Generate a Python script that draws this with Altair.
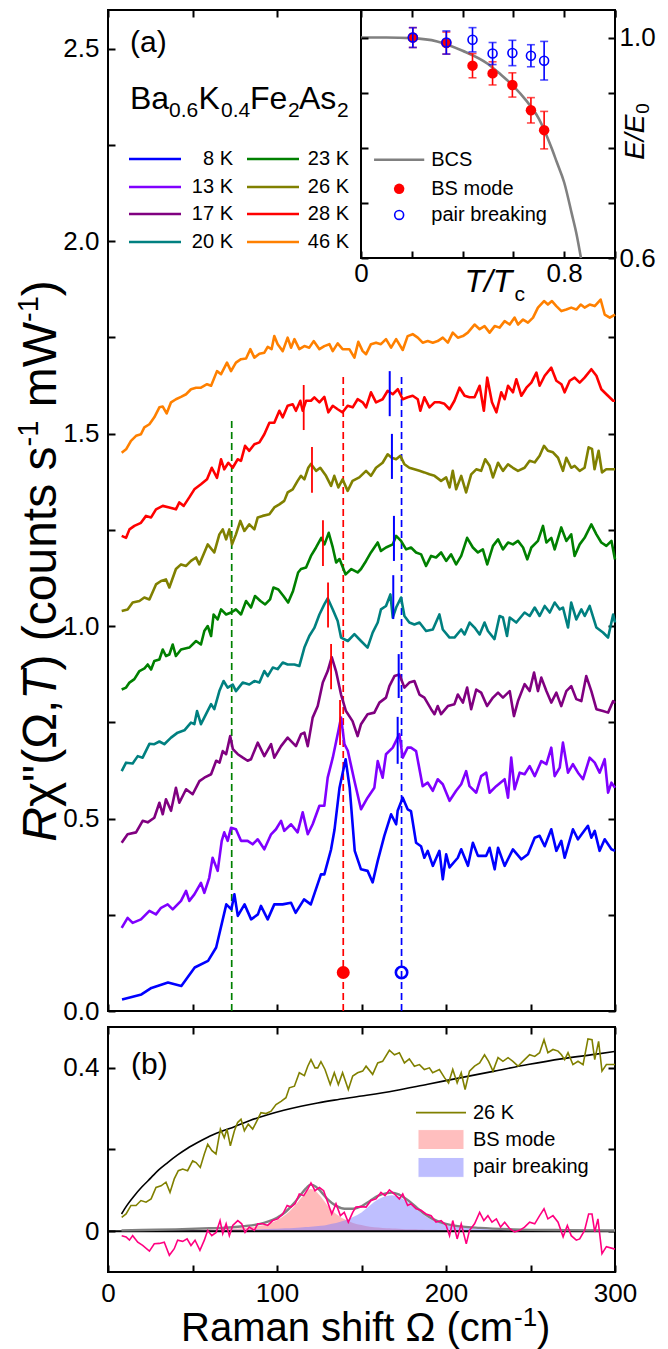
import altair as alt
import pandas as pd

FONT = "Liberation Sans"
W, HA, HB = 507, 1001, 245

# ---------------- panel (a) data: Raman response, offset curves ----------------
temps = ["8 K", "13 K", "17 K", "20 K", "23 K", "26 K", "28 K", "46 K"]
colors = ["#0000ff", "#8000ff", "#800080", "#008080", "#008000", "#808000", "#ff0000", "#ff8000"]

c8 = [(8.3,0.030),(19.8,0.043),(25.7,0.060),(35.5,0.074),(43.4,0.065),(51.3,0.113),(59.2,0.130),(64.0,0.165),
      (70.0,0.277),(73.0,0.264),(74.8,0.303),(76.8,0.247),(80.8,0.277),(84.7,0.238),(88.7,0.251),(90.5,0.273),
      (94.5,0.238),(98.4,0.277),(103.3,0.277),(108.3,0.281),(111.0,0.255),(116.0,0.290),(120.0,0.277),(126.0,0.355),
      (128.0,0.355),(132.0,0.420),(134.0,0.470),(137.0,0.580),(140.6,0.654),(143.0,0.580),(146.0,0.416),(149.7,0.368),
      (153.6,0.364),(156.6,0.334),(159.6,0.390),(163.5,0.455),(167.5,0.511),(170.5,0.485),(171.4,0.520),(174.4,0.554),
      (177.3,0.524),(179.3,0.519),(182.3,0.437),(185.2,0.428),(187.2,0.398),(189.2,0.416),(192.2,0.377),(196.1,0.416),
      (198.1,0.342),(200.1,0.407),(202.1,0.373),(207.0,0.398),(209.0,0.420),(213.0,0.377),(215.9,0.437),(218.9,0.403),
      (223.8,0.403),(225.8,0.424),(228.8,0.368),(230.8,0.424),(234.7,0.377),(239.6,0.420),(244.6,0.394),(248.5,0.407),
      (252.5,0.450),(255.4,0.455),(258.4,0.428),(262.3,0.472),(265.3,0.416),(268.2,0.442),(270.2,0.398),(275.1,0.472),
      (278.1,0.446),(284.0,0.481),(286.0,0.450),(288.0,0.468),(290.9,0.416),(293.9,0.446),(297.9,0.420),(300.0,0.416)]
c13 = [(8.1,0.216),(11.6,0.242),(14.6,0.229),(19.5,0.238),(24.5,0.260),(28.4,0.251),(31.4,0.268),(35.3,0.277),
       (38.3,0.264),(43.2,0.286),(46.2,0.312),(48.1,0.286),(51.1,0.303),(55.0,0.333),(57.0,0.307),(59.9,0.346),
       (61.9,0.398),(64.9,0.364),(67.3,0.442),(68.8,0.464),(70.8,0.442),(72.8,0.476),(75.7,0.472),(78.7,0.442),
       (82.6,0.442),(85.6,0.433),(88.6,0.446),(92.5,0.420),(96.5,0.459),(99.4,0.472),(102.4,0.494),(104.3,0.468),
       (108.3,0.485),(112.2,0.464),(115.2,0.516),(118.2,0.459),(121.1,0.485),(125.1,0.533),(128.0,0.533),(130.0,0.606),
       (133.0,0.658),(136.3,0.727),(137.9,0.762),(139.9,0.693),(141.9,0.676),(145.8,0.598),(149.7,0.524),(153.6,0.554),
       (157.6,0.580),(159.6,0.649),(162.5,0.606),(164.5,0.667),(168.5,0.684),(172.4,0.719),(174.4,0.658),(177.3,0.684),
       (179.3,0.684),(182.3,0.675),(186.2,0.584),(189.2,0.593),(192.2,0.572),(195.1,0.602),(198.1,0.589),(202.1,0.546),
       (206.0,0.572),(209.0,0.589),(211.9,0.623),(213.9,0.584),(217.9,0.567),(220.8,0.610),(223.8,0.619),(225.8,0.567),
       (229.7,0.584),(234.7,0.602),(236.7,0.554),(238.6,0.658),(240.6,0.576),(243.6,0.619),(246.5,0.615),(249.5,0.636),
       (252.5,0.610),(256.4,0.649),(259.4,0.641),(262.3,0.684),(264.3,0.610),(267.3,0.632),(269.2,0.697),(272.2,0.619),
       (275.1,0.641),(278.1,0.619),(281.1,0.602),(285.0,0.658),(288.0,0.645),(290.9,0.619),(293.9,0.654),(295.9,0.567),
       (297.9,0.593),(300.0,0.580)]
c17 = [(8.1,0.437),(11.6,0.459),(16.6,0.464),(20.5,0.494),(23.5,0.490),(27.4,0.502),(30.4,0.541),(32.4,0.511),
       (34.3,0.550),(37.3,0.520),(40.2,0.580),(42.2,0.541),(46.2,0.576),(50.1,0.563),(54.1,0.597),(57.0,0.606),
       (61.0,0.615),(64.0,0.650),(66.0,0.645),(67.9,0.675),(69.9,0.667),(72.3,0.714),(73.9,0.680),(76.8,0.667),
       (79.8,0.658),(82.6,0.650),(84.6,0.654),(88.6,0.697),(92.5,0.662),(96.5,0.693),(98.4,0.658),(102.4,0.688),
       (106.3,0.710),(111.2,0.688),(114.2,0.719),(116.2,0.723),(118.2,0.688),(121.1,0.762),(124.1,0.792),(127.1,0.853),
       (130.0,0.883),(132.4,0.919),(134.9,0.883),(137.9,0.822),(140.8,0.779),(144.7,0.753),(147.7,0.714),(149.7,0.745),
       (153.6,0.771),(157.6,0.775),(160.6,0.801),(164.5,0.814),(166.5,0.844),(169.5,0.870),(172.4,0.874),(175.4,0.840),
       (178.3,0.853),(181.3,0.857),(184.3,0.822),(187.2,0.814),(191.2,0.784),(193.2,0.771),(195.1,0.792),(197.1,0.771),
       (201.1,0.792),(205.0,0.797),(207.0,0.822),(210.0,0.801),(212.5,0.840),(214.9,0.784),(217.9,0.835),(220.8,0.827),
       (224.3,0.792),(227.8,0.814),(230.8,0.827),(233.7,0.814),(237.7,0.831),(240.2,0.766),(242.6,0.805),(246.5,0.849),
       (249.5,0.831),(252.1,0.879),(254.4,0.831),(256.4,0.866),(259.4,0.831),(262.3,0.801),(265.3,0.827),(268.2,0.792),
       (271.2,0.831),(274.1,0.844),(277.1,0.810),(280.1,0.805),(283.0,0.870),(286.0,0.831),(289.0,0.784),(292.9,0.779),
       (295.9,0.775),(298.9,0.805),(300.0,0.800)]
c20 = [(8.1,0.623),(10.7,0.645),(14.6,0.643),(17.6,0.662),(20.5,0.658),(24.5,0.694),(27.4,0.693),(30.4,0.700),
       (33.3,0.693),(37.3,0.710),(41.2,0.723),(45.2,0.729),(49.1,0.749),(51.1,0.745),(52.7,0.779),(55.0,0.745),
       (58.0,0.771),(61.0,0.797),(62.9,0.784),(65.9,0.831),(68.4,0.857),(70.8,0.840),(73.8,0.848),(75.7,0.831),
       (79.7,0.853),(83.6,0.848),(86.6,0.857),(89.6,0.853),(92.5,0.883),(94.5,0.870),(97.5,0.892),(100.4,0.888),
       (103.4,0.905),(106.3,0.900),(110.3,0.900),(113.2,0.896),(116.2,0.944),(119.1,0.974),(122.1,0.995),(125.1,1.030),
       (128.0,1.056),(130.0,1.072),(133.0,1.043),(135.9,1.013),(137.9,0.970),(141.9,0.961),(145.8,0.979),(149.7,0.961),
       (153.6,0.944),(156.6,0.983),(159.6,1.009),(161.5,1.043),(164.5,1.052),(167.1,1.082),(168.5,1.022),(170.5,1.048),
       (173.4,1.074),(175.4,1.026),(178.3,1.009),(181.3,1.004),(184.3,1.009),(188.2,0.987),(192.2,0.991),(196.1,1.030),
       (198.1,0.991),(202.1,0.970),(205.0,0.970),(209.0,0.991),(211.0,0.978),(214.0,1.009),(216.9,0.996),(219.9,0.978),
       (222.8,1.009),(224.8,0.987),(228.7,0.966),(231.7,1.026),(233.7,1.022),(236.1,0.974),(237.7,1.022),(241.6,1.009),
       (246.5,1.035),(249.5,1.026),(252.5,1.048),(255.4,1.026),(258.4,1.052),(261.4,1.035),(264.3,1.061),(267.3,1.043),
       (269.2,1.048),(272.2,0.996),(274.1,1.061),(277.1,1.017),(280.1,1.043),(282.1,1.026),(285.0,1.052),(289.0,0.996),
       (292.9,0.983),(295.9,0.970),(298.9,1.030),(300.0,1.009)]
c23 = [(8.1,0.835),(10.7,0.840),(12.7,0.853),(15.6,0.862),(18.6,0.883),(21.6,0.890),(23.5,0.900),(25.5,0.887),
       (27.4,0.909),(30.4,0.913),(32.4,0.939),(34.3,0.922),(36.3,0.926),(38.3,0.952),(40.2,0.922),(43.2,0.939),
       (48.1,0.944),(52.1,0.961),(55.0,0.952),(57.0,0.987),(59.0,1.000),(61.0,0.974),(62.5,1.030),(64.9,1.017),
       (66.9,1.043),(69.9,1.030),(72.8,1.035),(75.7,1.043),(78.7,1.030),(81.7,1.065),(84.6,1.048),(87.0,1.078),
       (90.2,1.065),(93.0,1.056),(95.9,1.069),(97.9,1.100),(100.8,1.095),(103.8,1.078),(106.6,1.061),(109.5,1.091),
       (112.5,1.139),(114.2,1.148),(117.2,1.152),(120.1,1.182),(123.1,1.204),(126.2,1.229),(128.1,1.212),(130.6,1.242),
       (133.0,1.204),(135.0,1.165),(137.0,1.174),(140.6,1.134),(144.0,1.148),(147.7,1.139),(149.7,1.148),(152.7,1.169),
       (155.6,1.191),(159.6,1.217),(161.5,1.195),(164.5,1.204),(168.5,1.212),(170.5,1.234),(173.4,1.221),(176.4,1.199),
       (179.3,1.204),(182.3,1.191),(185.3,1.186),(188.2,1.156),(191.2,1.182),(194.1,1.178),(197.1,1.191),(200.1,1.169),
       (203.0,1.186),(206.0,1.160),(209.0,1.182),(212.5,1.229),(215.9,1.204),(218.9,1.191),(221.8,1.199),(224.4,1.160),
       (227.8,1.208),(230.8,1.225),(233.7,1.199),(236.7,1.217),(239.6,1.212),(242.6,1.221),(245.6,1.204),(248.1,1.173),
       (250.5,1.204),(254.4,1.221),(257.4,1.260),(259.4,1.217),(262.3,1.229),(264.3,1.199),(268.2,1.256),(271.2,1.221),
       (274.1,1.238),(276.1,1.182),(279.1,1.212),(282.0,1.229),(286.0,1.264),(289.0,1.238),(291.9,1.217),(294.9,1.208),
       (297.9,1.221),(300.0,1.173)]
c26 = [(8.1,1.039),(11.6,1.043),(14.6,1.061),(18.6,1.065),(21.5,1.074),(24.5,1.069),(28.4,1.108),(31.4,1.117),
       (34.3,1.121),(36.3,1.100),(40.2,1.148),(43.2,1.160),(46.2,1.156),(49.1,1.169),(52.1,1.178),(54.0,1.160),
       (57.0,1.191),(59.0,1.212),(62.9,1.191),(65.9,1.238),(67.9,1.251),(69.9,1.225),(71.8,1.251),(73.4,1.212),
       (75.7,1.238),(78.3,1.273),(80.7,1.247),(83.6,1.264),(86.6,1.251),(88.6,1.282),(91.5,1.286),(95.5,1.290),
       (98.4,1.308),(101.4,1.316),(104.3,1.325),(106.3,1.347),(109.3,1.355),(112.2,1.377),(114.2,1.390),(116.2,1.381),
       (118.5,1.411),(120.1,1.421),(123.1,1.403),(125.6,1.411),(129.0,1.390),(132.0,1.364),(133.9,1.390),(136.3,1.360),
       (138.8,1.381),(141.8,1.351),(144.7,1.377),(148.7,1.386),(152.7,1.403),(155.6,1.390),(158.6,1.411),(162.5,1.424),
       (165.5,1.446),(167.9,1.437),(170.5,1.433),(173.0,1.442),(175.4,1.420),(178.3,1.411),(181.3,1.407),(184.3,1.403),
       (187.2,1.399),(190.2,1.394),(193.2,1.390),(197.1,1.377),(200.1,1.386),(202.1,1.360),(204.0,1.403),(206.0,1.355),
       (209.0,1.390),(211.9,1.347),(214.9,1.394),(217.9,1.407),(220.8,1.403),(223.2,1.433),(225.8,1.416),(227.8,1.386),
       (230.8,1.424),(233.7,1.403),(236.7,1.420),(239.6,1.411),(242.6,1.403),(246.5,1.411),(249.5,1.429),(252.5,1.425),
       (255.4,1.442),(258.0,1.468),(260.3,1.455),(263.3,1.451),(266.3,1.437),(269.2,1.403),(271.2,1.437),(274.1,1.411),
       (276.1,1.416),(279.1,1.403),(282.0,1.411),(284.4,1.464),(286.4,1.460),(287.9,1.407),(290.3,1.455),(292.3,1.399),
       (294.8,1.407),(300.0,1.407)]
c28 = [(8.1,1.234),(10.7,1.229),(12.7,1.251),(15.6,1.260),(19.5,1.268),(22.5,1.286),(25.5,1.282),(28.4,1.303),
       (32.4,1.312),(36.3,1.308),(40.2,1.303),(42.2,1.321),(44.8,1.312),(48.1,1.334),(51.1,1.355),(55.0,1.368),
       (58.6,1.381),(61.4,1.411),(64.5,1.385),(66.9,1.433),(68.8,1.407),(71.2,1.424),(73.8,1.411),(76.7,1.433),
       (78.7,1.429),(81.1,1.468),(83.6,1.455),(86.6,1.472),(89.6,1.477),(92.5,1.498),(95.5,1.528),(98.4,1.528),
       (101.4,1.559),(103.4,1.542),(106.3,1.572),(109.3,1.576),(111.2,1.559),(113.8,1.585),(115.2,1.559),(117.2,1.585),
       (120.1,1.585),(122.1,1.594),(125.1,1.581),(128.0,1.595),(130.4,1.555),(133.0,1.572),(135.9,1.563),(138.8,1.555),
       (141.8,1.572),(144.8,1.568),(147.7,1.589),(150.7,1.581),(152.7,1.568),(155.6,1.607),(158.6,1.581),(162.5,1.589),
       (165.5,1.611),(168.5,1.602),(171.5,1.615),(174.4,1.589),(177.3,1.594),(180.3,1.598),(183.3,1.589),(184.8,1.559),
       (187.2,1.594),(190.2,1.568),(193.2,1.581),(196.1,1.581),(199.1,1.577),(202.1,1.563),(205.0,1.585),(208.0,1.619),
       (211.0,1.598),(213.9,1.594),(216.9,1.594),(219.9,1.624),(222.4,1.559),(224.4,1.645),(227.2,1.581),(229.8,1.555),
       (232.7,1.607),(234.7,1.589),(236.7,1.624),(239.6,1.607),(241.6,1.641),(244.6,1.598),(247.6,1.619),(250.5,1.632),
       (253.5,1.658),(255.4,1.624),(258.4,1.650),(262.3,1.671),(265.3,1.637),(268.3,1.628),(270.2,1.607),(273.2,1.637),
       (276.1,1.645),(279.1,1.632),(282.0,1.645),(286.0,1.667),(289.0,1.650),(291.9,1.615),(294.9,1.602),(298.9,1.585),
       (300.0,1.585)]
c46 = [(8.1,1.450),(10.7,1.459),(13.6,1.481),(16.6,1.494),(19.5,1.498),(21.5,1.516),(24.5,1.524),(27.4,1.542),
       (30.4,1.568),(32.4,1.570),(34.7,1.552),(37.3,1.581),(40.2,1.589),(43.2,1.595),(46.2,1.602),(49.1,1.615),
       (52.1,1.619),(55.0,1.619),(58.6,1.628),(61.0,1.624),(64.5,1.662),(66.9,1.654),(70.4,1.684),(72.8,1.662),
       (75.7,1.684),(78.7,1.693),(81.7,1.695),(84.2,1.719),(86.6,1.697),(89.6,1.707),(92.5,1.710),(94.5,1.725),
       (96.8,1.719),(98.4,1.753),(100.4,1.732),(103.4,1.714),(106.3,1.749),(108.3,1.723),(110.3,1.745),(113.2,1.719),
       (116.2,1.727),(119.1,1.723),(121.7,1.740),(125.1,1.719),(128.0,1.727),(131.0,1.732),(133.0,1.714),(135.9,1.734),
       (138.8,1.719),(142.8,1.719),(145.8,1.697),(148.1,1.738),(150.7,1.714),(152.7,1.706),(155.6,1.732),(158.6,1.736),
       (161.5,1.732),(164.5,1.745),(167.5,1.723),(170.5,1.745),(174.4,1.717),(177.3,1.753),(180.3,1.758),(183.3,1.749),
       (186.2,1.736),(189.2,1.740),(192.2,1.736),(195.1,1.740),(198.1,1.749),(201.1,1.736),(204.0,1.762),(207.0,1.749),
       (210.0,1.753),(212.9,1.762),(216.9,1.783),(219.9,1.771),(222.8,1.779),(225.8,1.762),(228.8,1.779),(231.7,1.775),
       (234.7,1.792),(237.7,1.783),(240.6,1.801),(242.6,1.783),(245.6,1.796),(248.5,1.788),(251.5,1.801),(254.4,1.827),
       (258.0,1.844),(260.3,1.835),(262.7,1.844),(265.3,1.831),(268.3,1.818),(271.2,1.822),(274.1,1.827),(277.1,1.822),
       (279.7,1.835),(282.0,1.827),(285.0,1.835),(288.0,1.831),(291.5,1.848),(293.9,1.809),(296.9,1.801),(300.0,1.809)]
curves = [c8, c13, c17, c20, c23, c26, c28, c46]

# dashed guide lines and markers (panel a)
dash_omega = [73.2, 139.2, 173.7]
dash_top = [1.54, 1.652, 1.652]
dash_color = ["#008000", "#ff0000", "#0000ff"]
mark_omega = [139.2, 173.7]
mark_val = [0.10, 0.10]
# short peak markers
red_seg_omega = [115.8, 120.7, 127.2, 130.2, 132.0, 137.3]
red_seg_lo = [1.509, 1.346, 1.156, 0.996, 0.836, 0.691]
red_seg_hi = [1.626, 1.465, 1.275, 1.113, 0.953, 0.808]
blue_seg_omega = [166.7, 168.0, 169.2, 168.8, 172.0, 171.4]
blue_seg_lo = [1.545, 1.382, 1.169, 1.018, 0.813, 0.642]
blue_seg_hi = [1.662, 1.499, 1.286, 1.132, 0.927, 0.764]

# ---------------- inset data ----------------
t_pts = [0.204, 0.336, 0.439, 0.518, 0.596, 0.669, 0.721]
e_bs = [1.000, 0.990, 0.949, 0.935, 0.914, 0.868, 0.832]
err_bs = [0.018, 0.020, 0.022, 0.021, 0.022, 0.023, 0.034]
e_pb = [1.000, 0.991, 0.996, 0.971, 0.972, 0.967, 0.958]
err_pb = [0.018, 0.021, 0.022, 0.020, 0.023, 0.020, 0.035]
bcs_t = [0.0, 0.1, 0.2, 0.3, 0.4, 0.5, 0.55, 0.6, 0.65, 0.7, 0.75, 0.77, 0.8, 0.83, 0.85, 0.866]
bcs_e = [1.0, 1.0, 0.999, 0.993, 0.976, 0.952, 0.933, 0.912, 0.886, 0.853, 0.800, 0.775, 0.737, 0.680, 0.640, 0.600]

# ---------------- panel (b) data ----------------
b26 = [(8.1,0.034),(10.7,0.042),(13.6,0.063),(16.6,0.063),(19.5,0.075),(22.5,0.071),(25.5,0.079),(28.4,0.107),
       (31.4,0.111),(34.3,0.120),(36.7,0.095),(39.2,0.128),(41.6,0.148),(44.2,0.152),(47.1,0.148),(50.1,0.172),
       (52.1,0.168),(54.6,0.156),(57.0,0.189),(59.0,0.213),(61.5,0.197),(63.9,0.189),(66.5,0.250),(68.8,0.229),
       (70.4,0.250),(72.4,0.209),(74.8,0.246),(76.7,0.266),(78.7,0.274),(80.7,0.246),(83.0,0.262),(85.6,0.250),
       (87.6,0.266),(90.5,0.290),(93.5,0.288),(96.5,0.294),(99.4,0.310),(102.4,0.318),(105.3,0.327),(107.3,0.351),
       (110.3,0.355),(113.2,0.388),(116.2,0.381),(118.2,0.404),(120.1,0.420),(122.5,0.400),(124.1,0.400),(126.0,0.415),
       (128.4,0.396),(131.5,0.359),(133.9,0.388),(136.3,0.359),(138.8,0.388),(142.2,0.347),(144.8,0.380),(147.7,0.388),
       (150.7,0.392),(152.7,0.404),(156.6,0.384),(159.6,0.412),(162.5,0.416),(166.5,0.443),(169.5,0.432),(172.4,0.437),
       (175.4,0.412),(178.3,0.422),(181.3,0.404),(184.3,0.408),(187.2,0.396),(190.2,0.400),(192.1,0.388),(196.1,0.396),
       (199.1,0.376),(201.5,0.363),(204.0,0.396),(206.6,0.363),(209.0,0.388),(211.3,0.347),(213.9,0.392),(216.9,0.404),
       (219.9,0.412),(222.8,0.432),(225.2,0.416),(227.8,0.392),(230.8,0.425),(233.7,0.416),(236.7,0.425),(239.6,0.416),
       (242.6,0.404),(246.5,0.420),(249.5,0.432),(252.5,0.428),(255.4,0.437),(258.0,0.469),(260.3,0.437),(263.3,0.445),
       (266.3,0.441),(268.3,0.432),(270.2,0.420),(272.2,0.437),(275.1,0.408),(278.1,0.416),(281.1,0.408),(284.0,0.471),
       (286.4,0.469),(288.0,0.420),(290.3,0.465),(292.3,0.392),(294.9,0.408),(300.0,0.408)]
resid = [(8.1,-0.011),(10.7,-0.014),(12.7,-0.022),(14.6,-0.011),(17.6,-0.027),(20.5,-0.035),(24.5,-0.049),(27.4,-0.031),
         (30.4,-0.030),(33.3,-0.027),(36.3,-0.059),(39.2,-0.043),(41.2,-0.022),(44.2,-0.025),(46.8,-0.019),(49.1,-0.035),
         (51.5,-0.022),(54.4,-0.047),(57.0,-0.022),(59.0,0.002),(61.4,-0.011),(64.0,-0.003),(66.3,0.026),(67.9,-0.006),
         (69.9,0.018),(71.8,-0.011),(73.8,0.014),(76.8,0.026),(79.1,0.018),(81.1,-0.003),(83.6,0.010),(86.6,0.002),
         (88.6,0.018),(91.5,0.018),(94.5,0.014),(97.5,0.026),(100.4,0.030),(103.4,0.042),(106.0,0.063),(108.3,0.059),
         (110.7,0.067),(113.2,0.091),(115.8,0.087),(118.2,0.103),(120.1,0.118),(122.5,0.099),(125.1,0.107),(127.6,0.099),
         (130.0,0.071),(132.4,0.042),(134.9,0.067),(137.5,0.038),(139.8,0.046),(142.2,0.022),(144.8,0.046),(146.7,0.059),
         (149.7,0.060),(152.7,0.059),(155.6,0.075),(158.6,0.079),(161.5,0.095),(163.9,0.087),(166.5,0.101),(169.5,0.091),
         (172.4,0.079),(174.4,0.091),(177.3,0.063),(179.3,0.067),(182.3,0.055),(185.2,0.051),(188.2,0.042),(191.2,0.038),
         (194.1,0.022),(197.1,0.026),(200.1,0.014),(202.1,-0.011),(204.0,0.026),(206.6,-0.019),(209.0,0.018),(212.0,-0.031),
         (213.9,0.002),(216.9,0.018),(219.9,0.046),(222.4,0.026),(224.8,0.038),(227.2,0.022),(229.8,0.030),(232.3,0.010),
         (234.7,0.022),(237.7,0.006),(240.6,-0.002),(243.6,0.002),(246.5,0.010),(249.5,0.022),(252.5,0.018),(255.4,0.038),
         (258.0,0.055),(260.3,0.030),(263.3,0.038),(266.3,0.022),(269.3,-0.014),(271.8,0.014),(274.1,-0.011),(277.1,-0.022),
         (279.1,-0.019),(282.0,0.002),(284.4,0.042),(286.4,0.042),(288.0,-0.002),(289.9,0.030),(292.3,-0.055),(294.9,-0.038),
         (300.0,-0.044)]
fit_omega = [8, 20, 40, 60, 70, 80, 90, 95, 100, 105, 110, 114, 117, 120, 123, 126, 130, 135, 140, 145,
             150, 155, 160, 165, 168, 172, 176, 180, 184, 188, 192, 196, 200, 210, 220, 240, 270, 300]
bs_fit = [0.001, 0.0015, 0.0025, 0.004, 0.005, 0.008, 0.013, 0.018, 0.027, 0.040, 0.060, 0.080, 0.094, 0.103,
          0.097, 0.084, 0.062, 0.042, 0.029, 0.020, 0.015, 0.011, 0.009, 0.007, 0.0065, 0.006, 0.005, 0.0045,
          0.004, 0.0037, 0.0034, 0.003, 0.0028, 0.0023, 0.002, 0.0015, 0.001, 0.0008]
pb_fit = [0.001, 0.0012, 0.002, 0.003, 0.0035, 0.004, 0.005, 0.0055, 0.006, 0.007, 0.008, 0.009, 0.010, 0.011,
          0.012, 0.013, 0.016, 0.020, 0.026, 0.035, 0.046, 0.063, 0.078, 0.086, 0.088, 0.084, 0.075, 0.063,
          0.049, 0.036, 0.027, 0.020, 0.015, 0.009, 0.006, 0.003, 0.0015, 0.001]
total_fit = [0.002, 0.003, 0.0045, 0.007, 0.0085, 0.012, 0.018, 0.024, 0.033, 0.047, 0.068, 0.089, 0.104, 0.114,
             0.109, 0.097, 0.078, 0.062, 0.055, 0.055, 0.061, 0.074, 0.087, 0.093, 0.0945, 0.090, 0.080, 0.0675,
             0.053, 0.040, 0.030, 0.023, 0.018, 0.011, 0.008, 0.0045, 0.0025, 0.0018]
bg_omega = [8, 11, 15.6, 20, 25.5, 30, 35.3, 41, 47.1, 53, 59, 67, 74.8, 84, 94.5, 104, 114.2, 124, 133.9, 150,
            169.5, 189.2, 209, 228.7, 248.5, 268.2, 288, 300]
bg_fit = [0.042, 0.062, 0.087, 0.108, 0.131, 0.150, 0.168, 0.186, 0.203, 0.217, 0.230, 0.244, 0.256, 0.271,
          0.285, 0.296, 0.306, 0.314, 0.321, 0.331, 0.344, 0.360, 0.376, 0.392, 0.408, 0.422, 0.433, 0.440]

# ---------------- helpers ----------------
def om(px): return (px - 107) / 1.69        # reference pixel -> Raman shift (annotation placement)
def va(py): return (1010 - py) / 385
def wb(py): return (1229 - py) / 410
def ti(px): return (px - 360) / 253
def ei(py): return 1.0 - (py - 36) / 550

EM = {"R": .722, "χ": .5, '"': .355, "(": .333, "Ω": .768, ",": .278, "T": .611, ")": .333, " ": .278,
      "c": .5, "o": .556, "u": .556, "n": .556, "t": .278, "s": .5, "-": .333, "1": .556, "m": .833,
      "W": .944, "a": .556, "h": .556, "i": .222, "f": .278}
def tw(s, size): return sum(EM[ch] for ch in s) * size

xa = alt.Scale(domain=[0, 300], nice=False, zero=False)
ya = alt.Scale(domain=[0, 2.6], nice=False, zero=False)
yb = alt.Scale(domain=[-0.1, 0.5], nice=False, zero=False)
xi = alt.Scale(domain=[0, 1.0], range=[253, W], nice=False, zero=False)
yi = alt.Scale(domain=[0.6, 1.05], range=[248, 0], nice=False, zero=False)

def tick_axis(orient, offset, values, z=0):
    return alt.Axis(orient=orient, offset=offset, values=values, labels=False, domain=False, ticks=True,
                    tickSize=7, tickWidth=2, tickColor="black", grid=False, title=None, zindex=z)

def label_axis(orient, values, pad, expr=None, fmt=None, offset=0, z=0, size=26):
    kw = dict(orient=orient, offset=offset, values=values, labels=True, domain=False, ticks=False, tickSize=0,
              grid=False, title=None, labelFont=FONT, labelFontSize=size, labelColor="black",
              labelPadding=pad, labelFlush=False, labelOverlap=False, zindex=z)
    if expr:
        kw["labelExpr"] = expr
    if fmt:
        kw["format"] = fmt
    return alt.Axis(**kw)

def carrier(df, xf, yf, xs, ys, xax, yax):
    return alt.Chart(df).mark_point(opacity=0).encode(
        x=alt.X(xf, type="quantitative", scale=xs, axis=xax),
        y=alt.Y(yf, type="quantitative", scale=ys, axis=yax))

def text(xs, ys, xv, yv, s, size, align="left", baseline="alphabetic", italic=False, angle=0):
    mk = dict(font=FONT, fontSize=size, align=align, baseline=baseline, color="black")
    if italic:
        mk["fontStyle"] = "italic"
    if angle:
        mk["angle"] = angle
    df = pd.DataFrame({"x": [xv], "y": [yv], "t": [s]})
    return alt.Chart(df).mark_text(**mk).encode(
        x=alt.X("x:Q", scale=xs, axis=None), y=alt.Y("y:Q", scale=ys, axis=None), text="t:N")

# ---------------- panel (a) main layers ----------------
rows = []
for T, pts in zip(temps, curves):
    for o, v in pts:
        rows.append({"omega": o, "val": v, "T": T})
df_a = pd.DataFrame(rows)

curves_l = alt.Chart(df_a).mark_line(strokeWidth=2.6, strokeJoin="round").encode(
    x=alt.X("omega:Q", scale=xa, axis=None), y=alt.Y("val:Q", scale=ya, axis=None),
    color=alt.Color("T:N", scale=alt.Scale(domain=temps, range=colors), legend=None),
    detail="T:N")

df_dash = pd.DataFrame({"omega": dash_omega, "bot": [0.0] * 3, "top": dash_top, "c": dash_color})
dash_l = alt.Chart(df_dash).mark_rule(strokeWidth=1.7, strokeDash=[7, 4]).encode(
    x=alt.X("omega:Q", scale=xa, axis=None), y=alt.Y("bot:Q", scale=ya, axis=None), y2="top:Q",
    color=alt.Color("c:N", scale=None))

df_rs = pd.DataFrame({"omega": red_seg_omega, "lo": red_seg_lo, "hi": red_seg_hi})
df_bs = pd.DataFrame({"omega": blue_seg_omega, "lo": blue_seg_lo, "hi": blue_seg_hi})
rseg = alt.Chart(df_rs).mark_rule(strokeWidth=1.8, color="#ff0000").encode(
    x=alt.X("omega:Q", scale=xa, axis=None), y=alt.Y("lo:Q", scale=ya, axis=None), y2="hi:Q")
bseg = alt.Chart(df_bs).mark_rule(strokeWidth=2.0, color="#0000ff").encode(
    x=alt.X("omega:Q", scale=xa, axis=None), y=alt.Y("lo:Q", scale=ya, axis=None), y2="hi:Q")

df_mk = pd.DataFrame({"omega": mark_omega, "val": mark_val})
mk_red = alt.Chart(df_mk.iloc[[0]]).mark_point(filled=True, color="#ff0000", size=170, opacity=1).encode(
    x=alt.X("omega:Q", scale=xa, axis=None), y=alt.Y("val:Q", scale=ya, axis=None))
mk_blue = alt.Chart(df_mk.iloc[[1]]).mark_point(filled=False, color="#0000ff", size=130, strokeWidth=2.6,
                                                opacity=1).encode(
    x=alt.X("omega:Q", scale=xa, axis=None), y=alt.Y("val:Q", scale=ya, axis=None))

# legend (two columns)
col_x1 = [om(128), om(246)]
col_x2 = [om(180), om(298)]
col_tx = [om(232), om(348)]
row_v = [va(158), va(186), va(213), va(241)]
leg_rows = []
for i, (T, c) in enumerate(zip(temps, colors)):
    col, r = divmod(i, 4)
    leg_rows.append({"x1": col_x1[col], "x2": col_x2[col], "tx": col_tx[col], "y": row_v[r], "T": T, "c": c})
df_leg = pd.DataFrame(leg_rows)
leg_lines = alt.Chart(df_leg).mark_rule(strokeWidth=2.6).encode(
    x=alt.X("x1:Q", scale=xa, axis=None), x2="x2:Q", y=alt.Y("y:Q", scale=ya, axis=None),
    color=alt.Color("c:N", scale=None))
leg_text = alt.Chart(df_leg).mark_text(font=FONT, fontSize=20, align="right", baseline="middle", color="black").encode(
    x=alt.X("tx:Q", scale=xa, axis=None), y=alt.Y("y:Q", scale=ya, axis=None), text="T:N")

# formula Ba0.6K0.4Fe2As2 and panel tag
formula = [("Ba", 129, 32), ("0.6", 168, 21), ("K", 197.5, 32), ("0.4", 220, 21),
           ("Fe", 249, 32), ("2", 287, 21), ("As", 298, 32), ("2", 336, 21)]
formula_l = [text(xa, ya, om(px), va(108 if sz > 25 else 116), s, sz) for s, px, sz in formula]
tag_a = text(xa, ya, om(129), va(51), "(a)", 30)

# y-axis title built from pieces (rotated)
YF, YS = 48, 29
ytitle = [("R", YF, True, False), ('χ"(Ω,', YF, False, False), ("T", YF, True, False),
          (") (counts s", YF, False, False), ("-1", YS, False, True), (" mW", YF, False, False),
          ("-1", YS, False, True), (")", YF, False, False)]
total = sum(tw(s, sz) for s, sz, _, _ in ytitle)
py0 = 560 + total / 2
pos = 0.0
ytitle_l = []
for s, sz, it, sup in ytitle:
    lead = len(s) - len(s.lstrip())
    start = pos + lead * EM[" "] * sz
    bx = 37 if sup else 55
    ytitle_l.append(text(xa, ya, om(bx), va(py0 - start), s.lstrip(), sz, italic=it, angle=270))
    pos += tw(s, sz)

xt = [0, 50, 100, 150, 200, 250, 300]
yt_a = [i * 0.25 for i in range(11)]
yl_a = [0, 0.5, 1.0, 1.5, 2.0, 2.5]
car_a = [
    carrier(df_dash, "omega", "top", xa, ya, tick_axis("top", -HA, xt), label_axis("left", yl_a, 9, fmt=".1f")),
    carrier(df_dash, "omega", "top", xa, ya, tick_axis("bottom", -HA, xt), tick_axis("right", -W, yt_a)),
    carrier(df_dash, "omega", "top", xa, ya, None, tick_axis("left", -W, yt_a)),
]

main_a = alt.layer(dash_l, curves_l, rseg, bseg, mk_red, mk_blue, leg_lines, leg_text,
                   *formula_l, tag_a, *ytitle_l, *car_a).resolve_axis(x="independent", y="independent")

# ---------------- inset layers ----------------
df_box = pd.DataFrame({"t0": [xi.domain[0]], "t1": [xi.domain[1]], "e0": [yi.domain[0]], "e1": [yi.domain[1]]})
box = alt.Chart(df_box).mark_rect(fill="white", stroke="black", strokeWidth=2).encode(
    x=alt.X("t0:Q", scale=xi, axis=None), x2="t1:Q", y=alt.Y("e0:Q", scale=yi, axis=None), y2="e1:Q")

df_bcs = pd.DataFrame({"t": bcs_t, "e": bcs_e})
bcs = alt.Chart(df_bcs).mark_line(color="#808080", strokeWidth=2.6, interpolate="monotone").encode(
    x=alt.X("t:Q", scale=xi, axis=None), y=alt.Y("e:Q", scale=yi, axis=None))

def err_layers(e, err, color, filled):
    df = pd.DataFrame({"t": t_pts, "e": e, "lo": [a - b for a, b in zip(e, err)], "hi": [a + b for a, b in zip(e, err)]})
    bars = alt.Chart(df).mark_rule(color=color, strokeWidth=1.6).encode(
        x=alt.X("t:Q", scale=xi, axis=None), y=alt.Y("lo:Q", scale=yi, axis=None), y2="hi:Q")
    cap_lo = alt.Chart(df).mark_tick(color=color, orient="horizontal", size=8, thickness=1.6).encode(
        x=alt.X("t:Q", scale=xi, axis=None), y=alt.Y("lo:Q", scale=yi, axis=None))
    cap_hi = alt.Chart(df).mark_tick(color=color, orient="horizontal", size=8, thickness=1.6).encode(
        x=alt.X("t:Q", scale=xi, axis=None), y=alt.Y("hi:Q", scale=yi, axis=None))
    if filled:
        pts = alt.Chart(df).mark_point(filled=True, color=color, size=110, opacity=1).encode(
            x=alt.X("t:Q", scale=xi, axis=None), y=alt.Y("e:Q", scale=yi, axis=None))
    else:
        pts = alt.Chart(df).mark_point(filled=False, color=color, size=80, strokeWidth=1.6, opacity=1).encode(
            x=alt.X("t:Q", scale=xi, axis=None), y=alt.Y("e:Q", scale=yi, axis=None))
    return [bars, cap_lo, cap_hi, pts]

red_l = err_layers(e_bs, err_bs, "#ff0000", True)
blue_l = err_layers(e_pb, err_pb, "#0000ff", False)

df_il = pd.DataFrame({"x1": [ti(373)], "x2": [ti(423)], "y": [ei(158)]})
il_line = alt.Chart(df_il).mark_rule(color="#808080", strokeWidth=2.6).encode(
    x=alt.X("x1:Q", scale=xi, axis=None), x2="x2:Q", y=alt.Y("y:Q", scale=yi, axis=None))
df_ip = pd.DataFrame({"t": [ti(398)], "e": [ei(187)]})
il_red = alt.Chart(df_ip).mark_point(filled=True, color="#ff0000", size=110, opacity=1).encode(
    x=alt.X("t:Q", scale=xi, axis=None), y=alt.Y("e:Q", scale=yi, axis=None))
df_ip2 = pd.DataFrame({"t": [ti(398)], "e": [ei(213)]})
il_blue = alt.Chart(df_ip2).mark_point(filled=False, color="#0000ff", size=80, strokeWidth=1.6, opacity=1).encode(
    x=alt.X("t:Q", scale=xi, axis=None), y=alt.Y("e:Q", scale=yi, axis=None))
il_texts = [text(xi, yi, ti(430), ei(158), "BCS", 20, baseline="middle"),
            text(xi, yi, ti(430), ei(187), "BS mode", 20, baseline="middle"),
            text(xi, yi, ti(430), ei(213), "pair breaking", 20, baseline="middle")]
ititles = [text(xi, yi, ti(463), ei(290), "T/T", 32, italic=True),
           text(xi, yi, ti(513), ei(299), "c", 21),
           text(xi, yi, ti(642), ei(158), "E/E", 28, italic=True, angle=270),
           text(xi, yi, ti(647), ei(112), "0", 19, angle=270)]

df_ic = pd.DataFrame({"t": t_pts, "e": e_pb})
xti = [0, 0.2, 0.4, 0.6, 0.8, 1.0]
yti = [0.6, 0.7, 0.8, 0.9, 1.0]
car_i = [
    carrier(df_ic, "t", "e", xi, yi,
            label_axis("bottom", [0, 0.8], 2, expr="datum.value == 0 ? '0' : format(datum.value, '.1f')",
                       offset=-(HA - 248), z=1),
            label_axis("right", [0.6, 1.0], 4, fmt=".1f", z=1)),
    carrier(df_ic, "t", "e", xi, yi, tick_axis("top", -248, xti, z=1), tick_axis("right", -(W - 253), yti, z=1)),
    carrier(df_ic, "t", "e", xi, yi, tick_axis("bottom", -HA, xti, z=1), tick_axis("left", -W, yti, z=1)),
]

inset = alt.layer(box, bcs, *red_l, *blue_l, il_line, il_red, il_blue, *il_texts, *ititles,
                  *car_i).resolve_axis(x="independent", y="independent")

panel_a = alt.layer(main_a, inset).resolve_scale(x="independent", y="independent").properties(width=W, height=HA)

# ---------------- panel (b) ----------------
df_fit = pd.DataFrame({"omega": fit_omega, "bs": bs_fit, "pb": pb_fit, "tot": total_fit})
area_bs = alt.Chart(df_fit).mark_area(color="#ff7f7f", opacity=0.55, interpolate="monotone").encode(
    x=alt.X("omega:Q", scale=xa, axis=None), y=alt.Y("bs:Q", scale=yb, axis=None), y2=alt.datum(0))
area_pb = alt.Chart(df_fit).mark_area(color="#7f7fff", opacity=0.5, interpolate="monotone").encode(
    x=alt.X("omega:Q", scale=xa, axis=None), y=alt.Y("pb:Q", scale=yb, axis=None), y2=alt.datum(0))
df_zero = pd.DataFrame({"w": [0.0]})
zero = alt.Chart(df_zero).mark_rule(color="black", strokeWidth=2).encode(y=alt.Y("w:Q", scale=yb, axis=None))
df_bg = pd.DataFrame({"omega": bg_omega, "w": bg_fit})
bg_l = alt.Chart(df_bg).mark_line(color="black", strokeWidth=1.6, interpolate="monotone").encode(
    x=alt.X("omega:Q", scale=xa, axis=None), y=alt.Y("w:Q", scale=yb, axis=None))
df_b26 = pd.DataFrame(b26, columns=["omega", "w"])
b26_l = alt.Chart(df_b26).mark_line(color="#808000", strokeWidth=1.6).encode(
    x=alt.X("omega:Q", scale=xa, axis=None), y=alt.Y("w:Q", scale=yb, axis=None))
tot_l = alt.Chart(df_fit).mark_line(color="#808080", strokeWidth=2.4, interpolate="monotone").encode(
    x=alt.X("omega:Q", scale=xa, axis=None), y=alt.Y("tot:Q", scale=yb, axis=None))
df_res = pd.DataFrame(resid, columns=["omega", "w"])
res_l = alt.Chart(df_res).mark_line(color="#ff0080", strokeWidth=1.6).encode(
    x=alt.X("omega:Q", scale=xa, axis=None), y=alt.Y("w:Q", scale=yb, axis=None))

df_bl = pd.DataFrame({"x1": [om(415)], "x2": [om(465)], "y": [wb(1110)]})
bl_line = alt.Chart(df_bl).mark_rule(color="#808000", strokeWidth=1.6).encode(
    x=alt.X("x1:Q", scale=xa, axis=None), x2="x2:Q", y=alt.Y("y:Q", scale=yb, axis=None))
df_br = pd.DataFrame({"x1": [om(417), om(417)], "x2": [om(463), om(463)],
                      "y1": [wb(1127), wb(1155)], "y2": [wb(1147), wb(1175)],
                      "c": ["#ff7f7f", "#7f7fff"]})
bl_rect = alt.Chart(df_br).mark_rect(opacity=0.5, stroke="white", strokeWidth=1).encode(
    x=alt.X("x1:Q", scale=xa, axis=None), x2="x2:Q", y=alt.Y("y1:Q", scale=yb, axis=None), y2="y2:Q",
    color=alt.Color("c:N", scale=None))
bl_texts = [text(xa, yb, om(472), wb(1110), "26 K", 20, baseline="middle"),
            text(xa, yb, om(472), wb(1137), "BS mode", 20, baseline="middle"),
            text(xa, yb, om(472), wb(1165), "pair breaking", 20, baseline="middle")]
tag_b = text(xa, yb, om(130), wb(1071), "(b)", 30)

# x-axis title pieces
xtitle = [("Raman shift Ω (cm", 40, False), ("-1", 26, True), (")", 40, False)]
px = 180.0
xtitle_l = []
for s, sz, sup in xtitle:
    xtitle_l.append(text(xa, yb, om(px), wb(1324 if sup else 1339), s, sz))
    px += tw(s, sz)

df_bc = pd.DataFrame({"omega": [0, 300], "w": [0.0, 0.4]})
car_b = [
    carrier(df_bc, "omega", "w", xa, yb, label_axis("bottom", [0, 100, 200, 300], 8),
            label_axis("left", [0, 0.4], 9, expr="datum.value == 0 ? '0' : format(datum.value, '.1f')")),
    carrier(df_bc, "omega", "w", xa, yb, tick_axis("top", -HB, xt), tick_axis("right", -W, [0, 0.2, 0.4])),
    carrier(df_bc, "omega", "w", xa, yb, tick_axis("bottom", -HB, xt), tick_axis("left", -W, [0, 0.2, 0.4])),
]

panel_b = alt.layer(area_bs, area_pb, zero, bg_l, b26_l, tot_l, res_l, bl_line, bl_rect, *bl_texts, tag_b,
                    *xtitle_l, *car_b).resolve_axis(x="independent", y="independent").properties(width=W, height=HB)

chart = alt.vconcat(panel_a, panel_b, spacing=0).properties(
    padding={"left": 6, "top": 0, "right": 0, "bottom": 0}
).configure_view(stroke="black", strokeWidth=2)

chart.save("out.html", embed_options={"renderer": "svg", "actions": False})
